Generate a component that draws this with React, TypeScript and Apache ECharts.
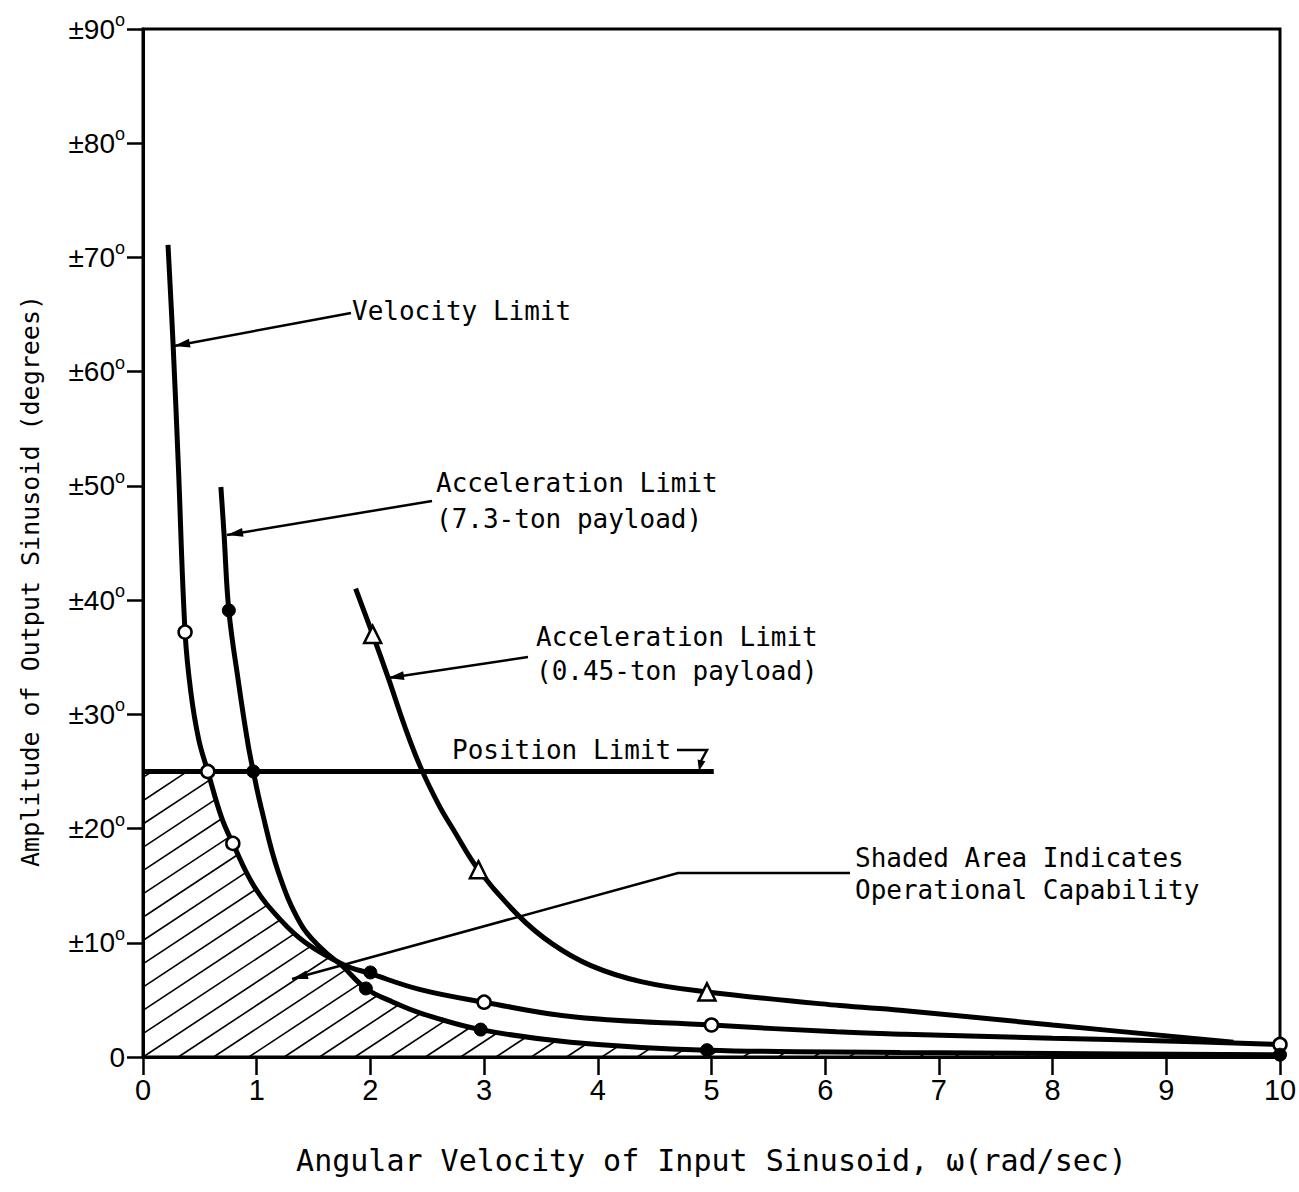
import React, { useEffect, useRef } from "react";
import * as echarts from "echarts";

// ---- Data ----
// Velocity Limit curve
const velX = [0.22, 0.265, 0.31, 0.37, 0.42, 0.49, 0.57, 0.69, 0.79, 0.98, 1.21, 1.43, 1.76, 2.0, 2.44, 3.0, 3.8, 5.0, 6.1, 6.7, 8.0, 9.0, 10];
const velY = [71.1, 62.3, 52.0, 37.2, 32.0, 27.8, 25.0, 21.0, 18.7, 14.9, 12.0, 10.0, 8.1, 7.3, 5.9, 4.8, 3.5, 2.8, 2.2, 2.0, 1.65, 1.4, 1.1];

// Acceleration Limit (7.3-ton payload)
const acc73X = [0.685, 0.712, 0.755, 0.84, 0.92, 0.97, 1.04, 1.19, 1.39, 1.57, 1.76, 1.96, 2.2, 2.44, 2.97, 3.76, 4.96, 6.66, 8.0, 10];
const acc73Y = [49.9, 45.9, 39.1, 32.8, 27.6, 25.0, 21.8, 16.2, 11.6, 9.5, 7.9, 6.0, 4.8, 3.85, 2.4, 1.3, 0.6, 0.4, 0.3, 0.2];

// Acceleration Limit (0.45-ton payload)
const acc045X = [1.87, 2.02, 2.16, 2.3, 2.44, 2.6, 2.73, 2.95, 3.3, 3.6, 3.94, 4.38, 4.96, 6.13, 6.66, 8.0, 9.59];
const acc045Y = [41.0, 37.0, 33.1, 29.0, 25.4, 22.1, 19.9, 16.4, 12.4, 9.9, 8.0, 6.6, 5.7, 4.5, 4.1, 2.8, 1.3];

// Position Limit
const posX = [0, 5.02];
const posY = [25, 25];

// Plotted markers
const openCircleX = [0.37, 0.57, 0.79, 3.0, 5.0, 10];
const openCircleY = [37.2, 25.0, 18.7, 4.8, 2.8, 1.1];
const filledCircleX = [0.755, 0.97, 2.0, 1.96, 2.97, 4.96, 10];
const filledCircleY = [39.1, 25.0, 7.4, 6.0, 2.4, 0.6, 0.2];
const triangleX = [2.02, 2.95, 4.96];
const triangleY = [37.0, 16.4, 5.7];

const hatchEndX = 9.0;

const MONO = "'DejaVu Sans Mono', monospace";
const SANS = "'Liberation Sans', Arial, sans-serif";

const zip = (xs: number[], ys: number[]) => xs.map((x, i) => [x, ys[i]]);

function interp(xs: number[], ys: number[], x: number): number {
  if (x < xs[0] || x > xs[xs.length - 1]) return Infinity;
  for (let i = 0; i < xs.length - 1; i++) {
    if (x >= xs[i] && x <= xs[i + 1]) {
      const t = (x - xs[i]) / (xs[i + 1] - xs[i]);
      return ys[i] + t * (ys[i + 1] - ys[i]);
    }
  }
  return Infinity;
}

function limitAt(x: number): number {
  const v = Math.min(
    interp(posX, posY, x),
    interp(velX, velY, x),
    interp(acc73X, acc73Y, x)
  );
  return v === Infinity ? 0 : v;
}

function arrowHead(fx: number, fy: number, tx: number, ty: number, len = 16, half = 4.5) {
  const dx = tx - fx, dy = ty - fy;
  const d = Math.hypot(dx, dy);
  const ux = dx / d, uy = dy / d;
  const bx = tx - ux * len, by = ty - uy * len;
  return {
    type: "polygon",
    shape: { points: [[tx, ty], [bx - uy * half, by + ux * half], [bx + uy * half, by - ux * half]] },
    style: { fill: "#000" },
    silent: true,
  };
}

function arrow(fx: number, fy: number, tx: number, ty: number) {
  return [
    { type: "line", shape: { x1: fx, y1: fy, x2: tx, y2: ty }, style: { stroke: "#000", lineWidth: 2.5 }, silent: true },
    arrowHead(fx, fy, tx, ty),
  ];
}

function label(text: string, x: number, y: number) {
  return {
    type: "text",
    x,
    y,
    silent: true,
    style: { text, fontSize: 26, fontFamily: MONO, fill: "#000", verticalAlign: "middle", align: "left" },
  };
}

export default function App() {
  const ref = useRef<HTMLDivElement>(null);

  useEffect(() => {
    if (!ref.current) return;
    const chart = echarts.init(ref.current, null, { renderer: "svg" });

    const curveStyle = { color: "#000", width: 5 };

    const option: any = {
      animation: false,
      backgroundColor: "#fff",
      grid: {
        left: 143,
        top: 29,
        width: 1137,
        height: 1028,
        show: true,
        borderColor: "#000",
        borderWidth: 3,
        containLabel: false,
        outerBoundsMode: "none",
      },
      xAxis: {
        type: "value",
        min: 0,
        max: 10,
        interval: 1,
        name: "Angular Velocity of Input Sinusoid, ω(rad/sec)",
        nameLocation: "middle",
        nameGap: 88,
        nameTextStyle: { fontSize: 30, fontFamily: MONO, color: "#000" },
        axisLine: { show: true, lineStyle: { color: "#000", width: 3 } },
        axisTick: { show: true, length: 18, lineStyle: { color: "#000", width: 2.5 } },
        splitLine: { show: false },
        axisLabel: {
          fontSize: 29,
          fontFamily: SANS,
          color: "#000",
          margin: 18,
          formatter: (v: number) => String(v),
        },
      },
      yAxis: {
        type: "value",
        min: 0,
        max: 90,
        interval: 10,
        name: "Amplitude of Output Sinusoid (degrees)",
        nameLocation: "middle",
        nameRotate: 90,
        nameGap: 100,
        nameTextStyle: { fontSize: 25, fontFamily: MONO, color: "#000", padding: [0, 76, 0, 0] },
        axisLine: { show: true, lineStyle: { color: "#000", width: 3 } },
        axisTick: { show: true, length: 16, lineStyle: { color: "#000", width: 2.5 } },
        splitLine: { show: false },
        axisLabel: {
          margin: 18,
          formatter: (v: number) => (v === 0 ? "{a|0}" : `{a|±${v}}{b|o}`),
          rich: {
            a: { fontSize: 28, fontFamily: SANS, color: "#000" },
            b: { fontSize: 18, fontFamily: SANS, color: "#000", padding: [0, 0, 18, 0] },
          },
        },
      },
      series: [
        {
          type: "custom",
          name: "Shaded Area",
          coordinateSystem: "cartesian2d",
          silent: true,
          z: 1,
          data: [[0, 0]],
          renderItem: (_params: any, api: any) => {
            const o = api.coord([0, 0]);
            const e = api.coord([10, 90]);
            const sx = (e[0] - o[0]) / 10;
            const sy = (e[1] - o[1]) / 90;
            const fromPx = (px: number) => (px - o[0]) / sx;
            const boundPy = (px: number) => o[1] + limitAt(fromPx(px)) * sy;
            const slope = 0.66;
            const step = 35.3;
            const endPx = o[0] + hatchEndX * sx;
            const children: any[] = [];
            for (let k = -20; k < 40; k++) {
              const bx = o[0] + k * step;
              let x0 = bx, y0 = o[1];
              if (bx < o[0]) {
                x0 = o[0];
                y0 = o[1] - slope * (o[0] - bx);
              }
              if (x0 >= endPx) break;
              if (y0 <= boundPy(x0)) continue;
              let px = x0, py = y0;
              while (px < endPx) {
                const nx = px + 0.5;
                const ny = o[1] - slope * (nx - bx);
                if (ny <= boundPy(nx)) break;
                px = nx;
                py = ny;
              }
              if (px - x0 < 0.5) continue;
              children.push({
                type: "line",
                shape: { x1: x0, y1: y0, x2: px, y2: py },
                style: { stroke: "#000", lineWidth: 1.6 },
              });
            }
            return { type: "group", children };
          },
        },
        {
          type: "line",
          name: "Position Limit",
          data: zip(posX, posY),
          showSymbol: false,
          lineStyle: curveStyle,
          z: 3,
        },
        {
          type: "line",
          name: "Velocity Limit",
          data: zip(velX, velY),
          showSymbol: false,
          smooth: 0.4,
          lineStyle: curveStyle,
          z: 3,
        },
        {
          type: "line",
          name: "Acceleration Limit (7.3-ton payload)",
          data: zip(acc73X, acc73Y),
          showSymbol: false,
          smooth: 0.4,
          lineStyle: curveStyle,
          z: 3,
        },
        {
          type: "line",
          name: "Acceleration Limit (0.45-ton payload)",
          data: zip(acc045X, acc045Y),
          showSymbol: false,
          smooth: 0.4,
          lineStyle: curveStyle,
          z: 3,
        },
        {
          type: "scatter",
          name: "Open circles",
          data: zip(openCircleX, openCircleY),
          symbol: "circle",
          symbolSize: 13,
          itemStyle: { color: "#fff", borderColor: "#000", borderWidth: 2.5, opacity: 1 },
          z: 5,
        },
        {
          type: "scatter",
          name: "Filled circles",
          data: zip(filledCircleX, filledCircleY),
          symbol: "circle",
          symbolSize: 13,
          itemStyle: { color: "#000", borderColor: "#000", borderWidth: 1, opacity: 1 },
          z: 5,
        },
        {
          type: "scatter",
          name: "Triangles",
          data: zip(triangleX, triangleY),
          symbol: "triangle",
          symbolSize: 17,
          itemStyle: { color: "#fff", borderColor: "#000", borderWidth: 2.5, opacity: 1 },
          z: 5,
        },
      ],
      graphic: [
        label("Velocity Limit", 352, 311),
        ...arrow(351, 313, 174, 346),
        label("Acceleration Limit", 436, 483),
        label("(7.3-ton payload)", 436, 519),
        ...arrow(432, 501, 227, 535),
        label("Acceleration Limit", 536, 637),
        label("(0.45-ton payload)", 536, 671),
        ...arrow(528, 657, 388, 678),
        label("Position Limit", 452, 750),
        {
          type: "polyline",
          shape: { points: [[677, 750], [707, 750], [701, 761]] },
          style: { stroke: "#000", lineWidth: 2.5, fill: null },
          silent: true,
        },
        arrowHead(702, 758, 699, 771, 11, 4),
        label("Shaded Area Indicates", 855, 858),
        label("Operational Capability", 855, 890),
        {
          type: "polyline",
          shape: { points: [[850, 873], [678, 873], [292, 979]] },
          style: { stroke: "#000", lineWidth: 2.5, fill: null },
          silent: true,
        },
        arrowHead(678, 873, 292, 979),
      ],
    };

    chart.setOption(option);
    return () => chart.dispose();
  }, []);

  return (
    <div
      ref={ref}
      style={{ position: "fixed", left: 0, top: 0, width: 1299, height: 1192, background: "#fff" }}
    />
  );
}
